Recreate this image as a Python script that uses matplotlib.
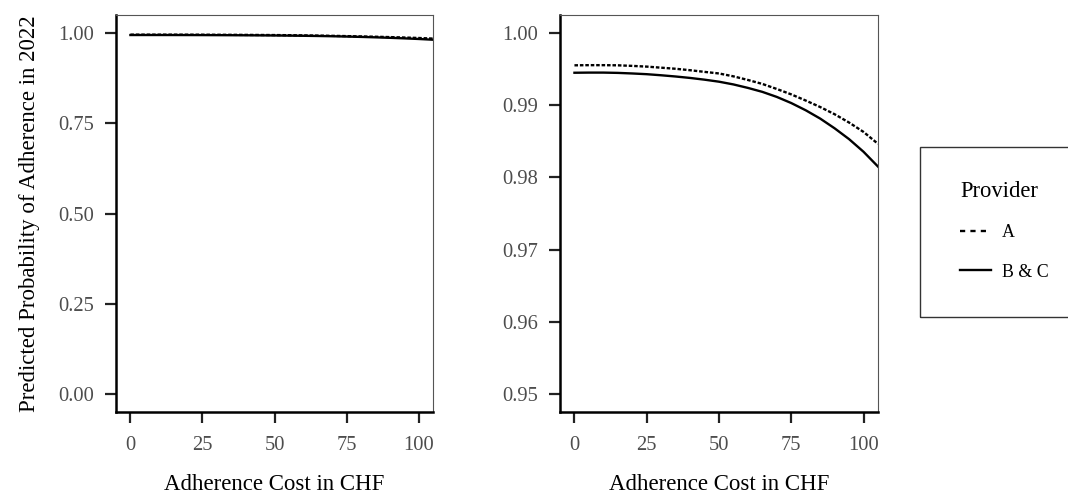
import matplotlib
matplotlib.use("Agg")
import matplotlib.pyplot as plt
from matplotlib.patches import Rectangle
from matplotlib.lines import Line2D

plt.rcParams['font.family'] = ['Liberation Serif', 'DejaVu Serif']

cost = [0, 5, 10, 15, 20, 25, 30, 35, 40, 45, 50, 55, 60, 65, 70, 75, 80, 85, 90, 95, 100, 105]
prob_a = [0.99553, 0.99555, 0.99555, 0.99553, 0.99545, 0.99535, 0.99520, 0.99505, 0.99485,
          0.99462, 0.99440, 0.99400, 0.99350, 0.99295, 0.99225, 0.99150, 0.99065, 0.98975,
          0.98875, 0.98760, 0.98630, 0.98465]
prob_bc = [0.99450, 0.99452, 0.99452, 0.99448, 0.99440, 0.99430, 0.99415, 0.99398, 0.99378,
           0.99354, 0.99326, 0.99288, 0.99240, 0.99185, 0.99115, 0.99030, 0.98930, 0.98815,
           0.98680, 0.98530, 0.98355, 0.98150]
x_ticks = [0, 25, 50, 75, 100]
left_yticks = [0.00, 0.25, 0.50, 0.75, 1.00]
right_yticks = [0.95, 0.96, 0.97, 0.98, 0.99, 1.00]
series_labels = ["A", "B & C"]

W, H = 1068, 495
fig = plt.figure(figsize=(W / 100, H / 100), dpi=100)

def px_axes(x0, y0, x1, y1):
    return fig.add_axes([x0 / W, 1 - y1 / H, (x1 - x0) / W, (y1 - y0) / H])

ax1 = px_axes(116, 15, 433, 412)
ax2 = px_axes(560, 15, 878, 412)

LW = 1.7
dash = (1.5, 0.8)
for ax, ylim, yt in [(ax1, (-0.05, 1.05), left_yticks),
                     (ax2, (0.9475, 1.0025), right_yticks)]:
    ax.plot(cost, prob_a, color="black", lw=LW, linestyle=(0, dash))
    ax.plot(cost, prob_bc, color="black", lw=LW)
    ax.set_xlim(-5, 105)
    ax.set_ylim(*ylim)
    ax.set_xticks(x_ticks)
    ax.set_xticklabels([str(t) for t in x_ticks])
    ax.set_yticks(yt)
    ax.set_yticklabels(["{:.2f}".format(t) for t in yt])
    for s in ["left", "bottom"]:
        ax.spines[s].set_color("black")
        ax.spines[s].set_linewidth(1.8)
    for s in ["top", "right"]:
        ax.spines[s].set_color("#555555")
        ax.spines[s].set_linewidth(0.8)
    ax.tick_params(axis="both", direction="out", length=8, width=1.6, color="#222222",
                   labelsize=14.8, labelcolor="#4D4D4D")
    ax.tick_params(axis="y", pad=8)
    ax.tick_params(axis="x", pad=9.5)
    ax.set_xlabel("Adherence Cost in CHF", fontsize=16.5, color="black", labelpad=13.5)

ax1.set_ylabel("Predicted Probability of Adherence in 2022", fontsize=16.5, color="black", labelpad=13)

# legend frame
fig.patches.append(Rectangle((920 / W, 1 - 317 / H), 160 / W, 170 / H, transform=fig.transFigure,
                             fill=False, edgecolor="#333333", linewidth=1.0))
handles = [Line2D([], [], color="black", lw=LW, linestyle=(0, (2.2, 2.2))),
           Line2D([], [], color="black", lw=LW)]
leg = fig.legend(handles, series_labels, title="Provider", loc="upper left",
                 bbox_to_anchor=(951 / W, 1 - 172 / H), frameon=False, borderpad=0,
                 fontsize=12.9, title_fontsize=16.3, handlelength=1.75, handletextpad=0.6,
                 labelspacing=1.25, alignment="left")

fig.savefig("out.png", dpi=100)
